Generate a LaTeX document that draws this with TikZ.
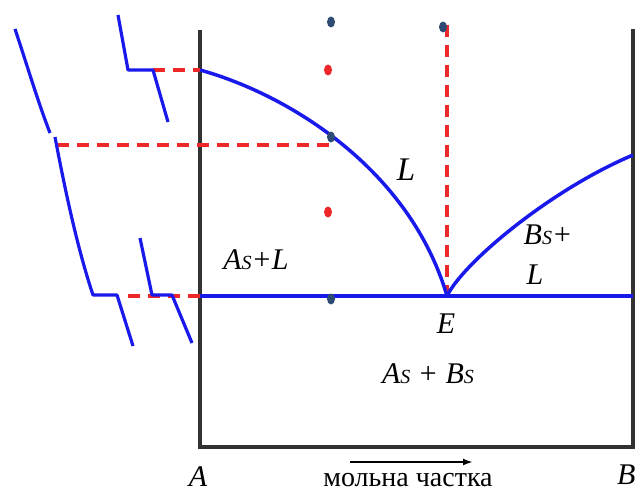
\documentclass[tikz,border=0pt]{standalone}
\usepackage{fontspec}
\setmainfont{Liberation Serif}
\usetikzlibrary{arrows.meta}
\definecolor{cblue}{RGB}{25,25,235}
\definecolor{cred}{RGB}{238,40,40}
\definecolor{cnavy}{RGB}{45,75,115}
\definecolor{caxis}{RGB}{50,50,50}
\tikzset{
  axisline/.style={draw=caxis,line width=3.5pt,line join=miter},
  phase/.style={draw=cblue,line width=3.5pt},
  cool/.style={draw=cblue,line width=3.2pt,line join=round},
  guide/.style={draw=cred,line width=3.3pt,dash pattern=on 12pt off 8pt},
  navydot/.style={fill=cnavy,draw=none},
  reddot/.style={fill=cred,draw=none},
  lbl/.style={font=\fontsize{30}{30}\selectfont\itshape,inner sep=0pt},
  axcaption/.style={font=\fontsize{28}{28}\selectfont,inner sep=0pt}
}
\newcommand{\sub}[1]{{\fontsize{20}{20}\selectfont\itshape #1}}
\begin{document}
\begin{tikzpicture}[x=1pt,y=-1pt]
\useasboundingbox (0,0) rectangle (637,492);
% key points
\coordinate (TA) at (200,30);
\coordinate (OA) at (200,447);
\coordinate (OB) at (633,447);
\coordinate (TB) at (633,29);
\coordinate (MA) at (200,70);
\coordinate (E) at (447,296);
\coordinate (MB) at (633,155);
\coordinate (EA) at (200,296);
\coordinate (EB) at (633,296);
% frame
\draw[axisline] (TA) -- (OA) -- (OB) -- (TB);
% red dashed guides
\draw[guide] (153,70) -- (MA);
\draw[guide] (57,145) -- (331,145);
\draw[guide] (128,296) -- (EA);
\draw[guide] (447,25) -- (E);
% phase lines
\draw[phase] (EA) -- (EB);
\draw[phase] (MA) .. controls (290,95) and (410,170) .. (E);
\draw[phase] (E) .. controls (463,263) and (550,190) .. (MB);
% cooling curves
\draw[cool] (15,29) .. controls (28,68) and (38,102) .. (50,133);
\draw[cool] (55,137) .. controls (66,195) and (78,250) .. (93,295) -- (117,295) -- (133,346);
\draw[cool] (118,15) -- (128,70) -- (153,70) -- (168,122);
\draw[cool] (140,238) -- (152,295) -- (172,295) -- (192,343);
% dots
\fill[navydot] (331,22) ellipse (4pt and 5.5pt);
\fill[reddot] (328,70) ellipse (4pt and 5.5pt);
\fill[navydot] (331,137) ellipse (4pt and 5.5pt);
\fill[reddot] (328,212) ellipse (4pt and 5.5pt);
\fill[navydot] (331,299) ellipse (4pt and 5.5pt);
\fill[navydot] (443,27) ellipse (4pt and 5.5pt);
% labels
\node[lbl,font=\fontsize{33}{33}\selectfont\itshape] (lL) at (406,170) {L};
\node[lbl] (lAL) at (256,260) {A\sub{S}+L};
\node[lbl] (lBL) at (548,235) {B\sub{S}+};
\node[lbl] (lBL2) at (535,275) {L};
\node[lbl] (lE) at (446,324) {E};
\node[lbl] (lAB) at (428,374) {A\sub{S} + B\sub{S}};
\node[lbl,anchor=base] (lA) at (198,486) {A};
\node[lbl,anchor=base west] (lB) at (617,484) {B};
\node[axcaption,anchor=base] (capt) at (408,486) {мольна частка};
\coordinate (ar1) at (350,462);
\coordinate (ar2) at (473,462);
\draw[line width=2.4pt,-{Latex[length=10pt,width=7pt]}] (ar1) -- (ar2);
\end{tikzpicture}
\end{document}
